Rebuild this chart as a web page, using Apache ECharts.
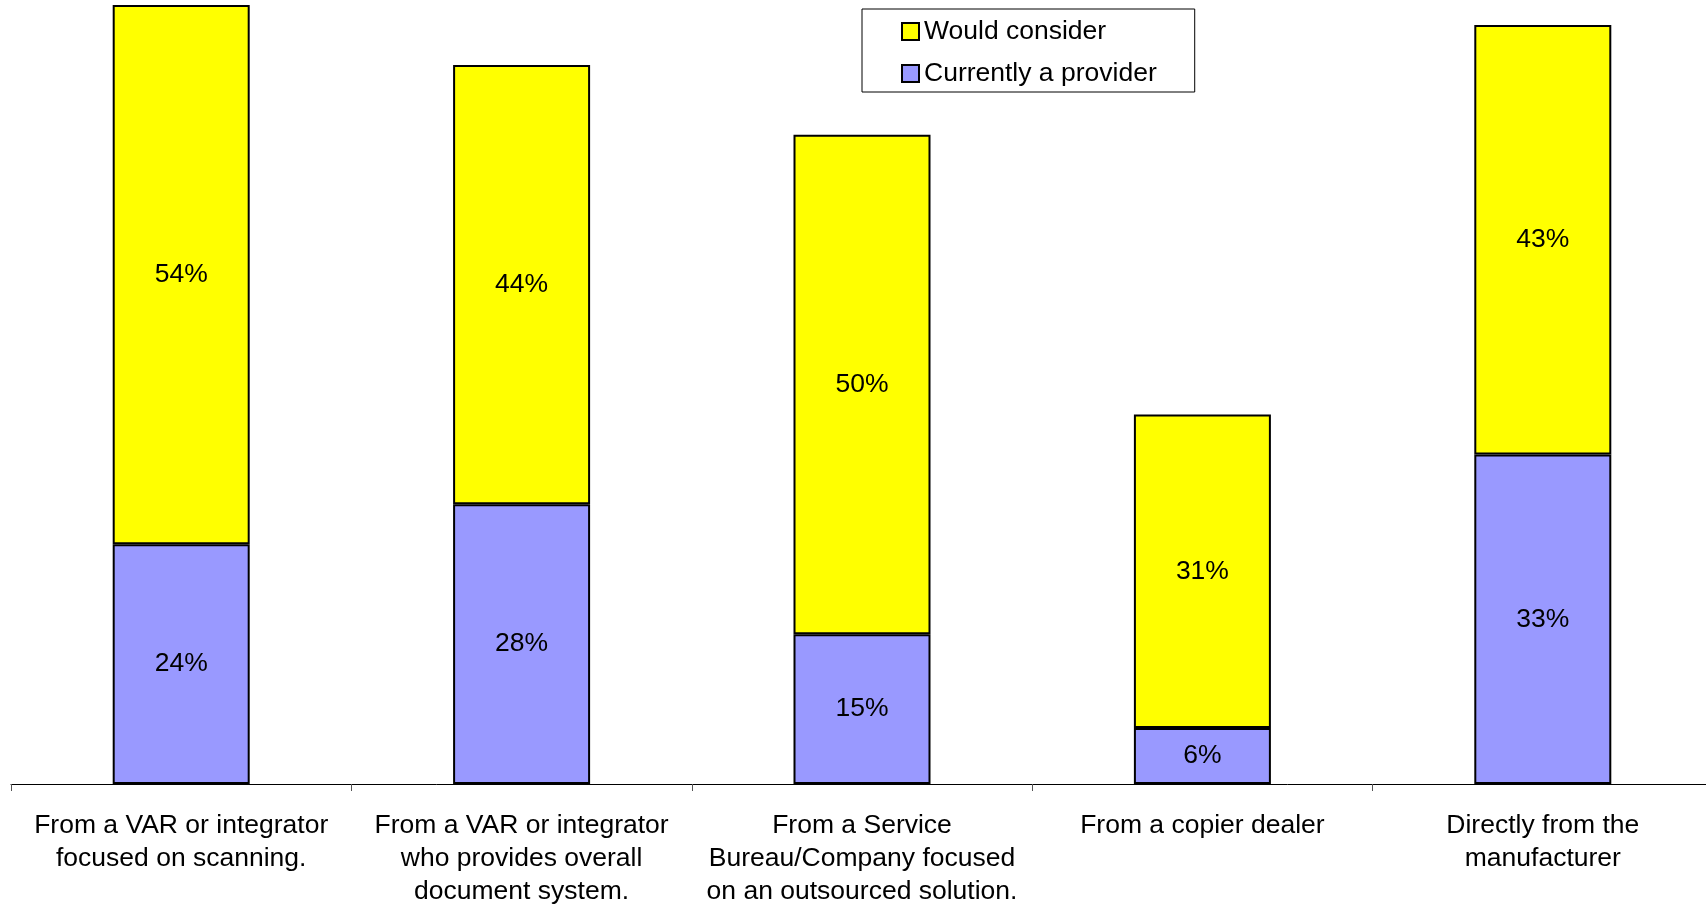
<!DOCTYPE html>
<html>
<head>
<meta charset="utf-8">
<script src="https://cdn.jsdelivr.net/npm/echarts@6/dist/echarts.min.js"></script>
<style>
html,body{margin:0;padding:0;background:#fff;overflow:hidden;}
#chart{width:1714px;height:908px;}
</style>
</head>
<body>
<div id="chart"></div>
<script>
const categories = [
  "From a VAR or integrator\nfocused on scanning.",
  "From a VAR or integrator\nwho provides overall\ndocument system.",
  "From a Service\nBureau/Company focused\non an outsourced solution.",
  "From a copier dealer",
  "Directly from the\nmanufacturer"
];
const currentlyProvider = [24, 28, 15, 5.6, 33];
const wouldConsider = [54, 44, 50, 31.4, 43];
const seriesNames = ["Would consider", "Currently a provider"];

const chart = echarts.init(document.getElementById('chart'), null, {renderer: 'canvas'});
const font = 'Liberation Sans, Arial, sans-serif';
const fs = 26.5;
const pct = p => Math.round(p.value) + '%';
chart.setOption({
  animation: false,
  backgroundColor: '#ffffff',
  textStyle: {fontFamily: font},
  grid: {left: 11, right: 1, top: 0, bottom: 118, containLabel: false},
  legend: {
    data: seriesNames,
    orient: 'vertical',
    left: 862,
    top: 9,
    padding: [9, 38, 5, 39],
    itemGap: 15,
    itemWidth: 17,
    itemHeight: 17,
    icon: 'rect',
    borderColor: '#000',
    borderWidth: 1,
    itemStyle: {borderColor: '#000', borderWidth: 2},
    textStyle: {fontSize: fs, color: '#000', fontFamily: font}
  },
  xAxis: {
    type: 'category',
    data: categories,
    boundaryGap: true,
    axisLine: {show: true, lineStyle: {color: '#000', width: 1}},
    axisTick: {show: true, length: 7, lineStyle: {color: '#555', width: 1}},
    axisLabel: {interval: 0, fontSize: fs, lineHeight: 33, color: '#000', margin: 25, fontFamily: font}
  },
  yAxis: {
    type: 'value',
    min: 0,
    max: 78.5,
    show: false,
    splitLine: {show: false}
  },
  series: [
    {
      name: 'Currently a provider',
      type: 'bar',
      stack: 'total',
      data: currentlyProvider,
      barWidth: 137,
      itemStyle: {color: '#9999FF', borderColor: '#000', borderWidth: 2},
      label: {show: true, position: 'inside', fontSize: fs, color: '#000', fontFamily: font, formatter: pct}
    },
    {
      name: 'Would consider',
      type: 'bar',
      stack: 'total',
      data: wouldConsider,
      barWidth: 137,
      itemStyle: {color: '#FFFF00', borderColor: '#000', borderWidth: 2},
      label: {show: true, position: 'inside', fontSize: fs, color: '#000', fontFamily: font, formatter: pct}
    }
  ]
});
</script>
</body>
</html>
